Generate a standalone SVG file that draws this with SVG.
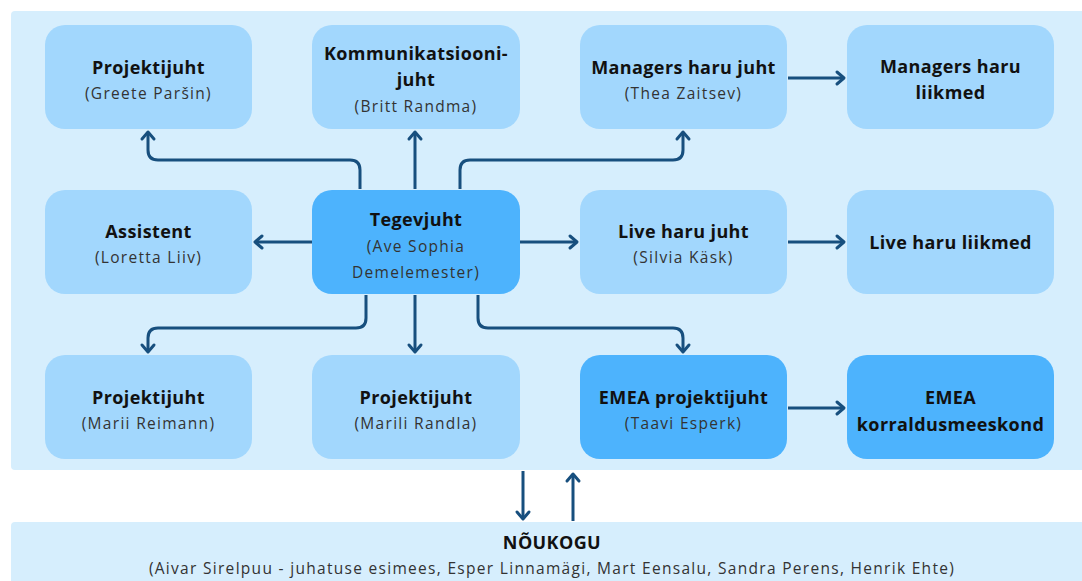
<svg xmlns="http://www.w3.org/2000/svg" width="1082" height="581" viewBox="0 0 1082 581">
<defs>
<style>
.panel{fill:#d6eefd}
.nl{fill:#a2d7fd}
.nd{fill:#4db3fd}
.t{font-family:"Open Sans","Liberation Sans",sans-serif;font-weight:700;font-size:18px;letter-spacing:0.4px;fill:#111;text-anchor:middle}
.s{font-family:"Open Sans","Liberation Sans",sans-serif;font-size:15.5px;letter-spacing:1.3px;fill:#333;text-anchor:middle}
.c{fill:none;stroke:#174f7e;stroke-width:3;stroke-linejoin:round}
</style>
<marker id="ah" markerUnits="userSpaceOnUse" markerWidth="20" markerHeight="20" refX="0" refY="0" viewBox="-10 -10 20 20" orient="auto" overflow="visible">
<path d="M-7,-6 L0,0 L-7,6" fill="none" stroke="#174f7e" stroke-width="3" stroke-linecap="round" stroke-linejoin="round"/>
</marker>
</defs>
<rect width="1082" height="581" fill="#ffffff"/>
<rect class="panel" x="11" y="11" width="1090" height="459" rx="4"/>
<rect class="panel" x="11" y="522" width="1090" height="70" rx="4"/>

<g id="connectors">
<path class="c" marker-end="url(#ah)" d="M360,189 V170 Q360,160 350,160 H158 Q148,160 148,150 V132"/>
<path class="c" marker-end="url(#ah)" d="M415,189 V132"/>
<path class="c" marker-end="url(#ah)" d="M460,189 V170 Q460,160 470,160 H673 Q683,160 683,150 V132"/>
<path class="c" marker-end="url(#ah)" d="M312,242 H255"/>
<path class="c" marker-end="url(#ah)" d="M520,242 H577"/>
<path class="c" marker-end="url(#ah)" d="M788,78 H844"/>
<path class="c" marker-end="url(#ah)" d="M788,242 H844"/>
<path class="c" marker-end="url(#ah)" d="M366,295 V318 Q366,328 356,328 H158 Q148,328 148,338 V352"/>
<path class="c" marker-end="url(#ah)" d="M415,295 V352"/>
<path class="c" marker-end="url(#ah)" d="M478,295 V318 Q478,328 488,328 H673 Q683,328 683,338 V352"/>
<path class="c" marker-end="url(#ah)" d="M788,408 H844"/>
<path class="c" marker-end="url(#ah)" d="M523,471 V519"/>
<path class="c" marker-end="url(#ah)" d="M573,521 V474"/>
</g>

<g id="projektijuht-greete">
<rect class="nl" x="45" y="25" width="207" height="104" rx="20"/>
<text class="t" x="148.5" y="74">Projektijuht</text>
<text class="s" x="148.5" y="99">(Greete Paršin)</text>
</g>
<g id="kommunikatsioonijuht">
<rect class="nl" x="312" y="25" width="208" height="104" rx="20"/>
<text class="t" x="416" y="60">Kommunikatsiooni-</text>
<text class="t" x="416" y="86">juht</text>
<text class="s" x="416" y="112">(Britt Randma)</text>
</g>
<g id="managers-juht">
<rect class="nl" x="580" y="25" width="207" height="104" rx="20"/>
<text class="t" x="683.5" y="74">Managers haru juht</text>
<text class="s" x="683.5" y="99">(Thea Zaitsev)</text>
</g>
<g id="managers-liikmed">
<rect class="nl" x="847" y="25" width="207" height="104" rx="20"/>
<text class="t" x="950.5" y="73">Managers haru</text>
<text class="t" x="950.5" y="99">liikmed</text>
</g>

<g id="assistent">
<rect class="nl" x="45" y="190" width="207" height="104" rx="20"/>
<text class="t" x="148.5" y="238">Assistent</text>
<text class="s" x="148.5" y="263">(Loretta Liiv)</text>
</g>
<g id="tegevjuht">
<rect class="nd" x="312" y="190" width="208" height="104" rx="20"/>
<text class="t" x="416" y="226">Tegevjuht</text>
<text class="s" x="416" y="252">(Ave Sophia</text>
<text class="s" x="416" y="278">Demelemester)</text>
</g>
<g id="live-juht">
<rect class="nl" x="580" y="190" width="207" height="104" rx="20"/>
<text class="t" x="683.5" y="238">Live haru juht</text>
<text class="s" x="683.5" y="263">(Silvia Käsk)</text>
</g>
<g id="live-liikmed">
<rect class="nl" x="847" y="190" width="207" height="104" rx="20"/>
<text class="t" x="950.5" y="249">Live haru liikmed</text>
</g>

<g id="projektijuht-marii">
<rect class="nl" x="45" y="355" width="207" height="104" rx="20"/>
<text class="t" x="148.5" y="404">Projektijuht</text>
<text class="s" x="148.5" y="429">(Marii Reimann)</text>
</g>
<g id="projektijuht-marili">
<rect class="nl" x="312" y="355" width="208" height="104" rx="20"/>
<text class="t" x="416" y="404">Projektijuht</text>
<text class="s" x="416" y="429">(Marili Randla)</text>
</g>
<g id="emea-projektijuht">
<rect class="nd" x="580" y="355" width="207" height="104" rx="20"/>
<text class="t" x="683.5" y="404">EMEA projektijuht</text>
<text class="s" x="683.5" y="429">(Taavi Esperk)</text>
</g>
<g id="emea-korraldus">
<rect class="nd" x="847" y="355" width="207" height="104" rx="20"/>
<text class="t" x="950.5" y="404">EMEA</text>
<text class="t" x="950.5" y="431">korraldusmeeskond</text>
</g>

<g id="noukogu">
<text class="t" x="552" y="549">NÕUKOGU</text>
<text class="s" x="552" y="574">(Aivar Sirelpuu - juhatuse esimees, Esper Linnamägi, Mart Eensalu, Sandra Perens, Henrik Ehte)</text>
</g>
</svg>
